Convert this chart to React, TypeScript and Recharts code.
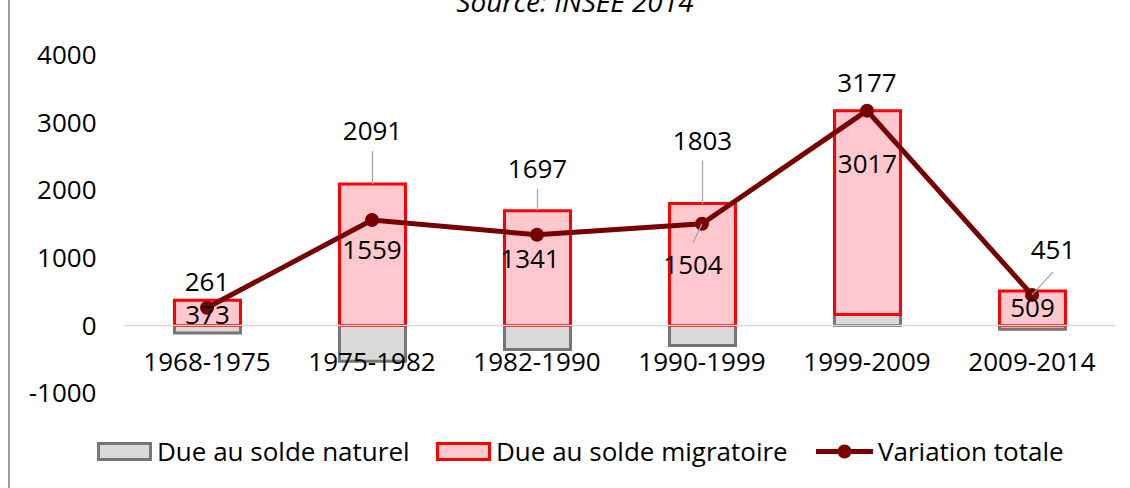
import React from "react";
import {
  Bar,
  ComposedChart,
  LabelList,
  Line,
  ReferenceLine,
  XAxis,
  YAxis,
} from "recharts";

// Données INSEE 2014 : variation de population par période
const PERIODES = [
  "1968-1975",
  "1975-1982",
  "1982-1990",
  "1990-1999",
  "1999-2009",
  "2009-2014",
];
const SOLDE_NATUREL = [-112, -532, -356, -299, 160, -58];
const SOLDE_MIGRATOIRE = [373, 2091, 1697, 1803, 3017, 509];
const VARIATION_TOTALE = [261, 1559, 1341, 1504, 3177, 451];
const Y_TICKS = [-1000, 0, 1000, 2000, 3000, 4000];

const SERIES = [
  "Due au solde naturel",
  "Due au solde migratoire",
  "Variation totale",
];

const data = PERIODES.map((periode, i) => ({
  periode,
  naturel: SOLDE_NATUREL[i],
  migratoire: SOLDE_MIGRATOIRE[i],
  total: VARIATION_TOTALE[i],
}));

// placement manuel des étiquettes (comme dans le graphique Excel d'origine)
const MIG_LABEL_DY = [14, -53, -42, -63, 53, 17];
const MIG_LEADER = [false, true, true, true, false, false];
const TOT_LABEL_DX = [0, 0, -7, -9, 0, 21];
const TOT_LABEL_DY = [-26, 30, 24, 41, -28, -45];
const TOT_LEADER = [false, false, false, true, false, true];

const FONT = "'Open Sans', sans-serif";
const FONT_SIZE = 26;
const LEADER = "#A6A6A6";
const MAROON = "#780000";

function readBox(p: any) {
  const vb = p.viewBox || {};
  return {
    x: Number(vb.x ?? p.x ?? 0),
    y: Number(vb.y ?? p.y ?? 0),
    width: Number(vb.width ?? p.width ?? 0),
  };
}

const renderMigLabel = (p: any) => {
  const { x, y, width } = readBox(p);
  const i = p.index;
  const cx = x + width / 2;
  const ly = y + MIG_LABEL_DY[i];
  return (
    <g>
      {MIG_LEADER[i] && (
        <line x1={cx} x2={cx} y1={ly + 20} y2={y} stroke={LEADER} strokeWidth={1.3} />
      )}
      <text
        x={cx}
        y={ly}
        dy="0.36em"
        textAnchor="middle"
        fill="#000"
        fontSize={FONT_SIZE}
        fontFamily={FONT}
      >
        {p.value}
      </text>
    </g>
  );
};

const renderTotalLabel = (p: any) => {
  const { x, y } = readBox(p);
  const i = p.index;
  const lx = x + TOT_LABEL_DX[i];
  const ly = y + TOT_LABEL_DY[i];
  const sign = TOT_LABEL_DY[i] > 0 ? 1 : -1;
  return (
    <g>
      {TOT_LEADER[i] && (
        <line x1={x} y1={y} x2={lx} y2={ly - sign * 22} stroke={LEADER} strokeWidth={1.3} />
      )}
      <text
        x={lx}
        y={ly}
        dy="0.36em"
        textAnchor="middle"
        fill="#000"
        fontSize={FONT_SIZE}
        fontFamily={FONT}
      >
        {p.value}
      </text>
    </g>
  );
};

const CategoryTick = (props: any) => {
  const { x, y, payload } = props;
  return (
    <text
      x={x}
      y={y - 31}
      dy="0.36em"
      textAnchor="middle"
      fill="#000"
      fontSize={FONT_SIZE}
      fontFamily={FONT}
    >
      {payload.value}
    </text>
  );
};

function LegendItem({ left, label, kind }: { left: number; label: string; kind: string }) {
  let icon;
  if (kind === "line") {
    icon = (
      <svg width={57} height={19} style={{ display: "block" }}>
        <line x1={0} x2={57} y1={9.5} y2={9.5} stroke={MAROON} strokeWidth={5} />
        <circle cx={28.5} cy={9.5} r={7} fill={MAROON} />
      </svg>
    );
  } else {
    const nat = kind === "naturel";
    icon = (
      <span
        style={{
          display: "block",
          width: 49,
          height: 13,
          background: nat ? "#D9D9D9" : "#FFC7CE",
          border: `3px solid ${nat ? "#767676" : "#FF0000"}`,
        }}
      />
    );
  }
  return (
    <div
      style={{
        position: "absolute",
        left,
        top: 436,
        height: 30,
        display: "flex",
        alignItems: "center",
        whiteSpace: "nowrap",
      }}
    >
      {icon}
      <span style={{ marginLeft: 5 }}>{label}</span>
    </div>
  );
}

export default function App() {
  return (
    <div
      style={{
        position: "fixed",
        left: 0,
        top: 0,
        width: 1130,
        height: 488,
        overflow: "hidden",
        background: "#fff",
        fontFamily: FONT,
        fontSize: FONT_SIZE,
        color: "#000",
      }}
    >
      <div
        style={{
          position: "absolute",
          left: 8,
          top: 0,
          width: 2,
          height: 488,
          background: "#9A9A9A",
        }}
      />
      <div
        style={{
          position: "absolute",
          left: 0,
          width: 1150,
          top: -13,
          lineHeight: "28px",
          fontSize: 28,
          textAlign: "center",
          fontStyle: "italic",
        }}
      >
        Source: INSEE 2014
      </div>
      <div style={{ position: "absolute", left: 0, top: 0 }}>
        <ComposedChart
          width={1130}
          height={488}
          data={data}
          stackOffset="sign"
          margin={{ top: 55, right: 15.5, bottom: 65, left: 0 }}
        >
          <XAxis
            dataKey="periode"
            height={30}
            axisLine={false}
            tickLine={false}
            tickSize={0}
            tickMargin={0}
            interval={0}
            tick={<CategoryTick />}
          />
          <YAxis
            width={124.5}
            domain={[-1000, 4000]}
            ticks={Y_TICKS}
            axisLine={false}
            tickLine={false}
            tickSize={0}
            tickMargin={28}
            tick={{ fill: "#000", fontSize: FONT_SIZE, fontFamily: FONT }}
          />
          <ReferenceLine y={0} stroke="#D9D9D9" strokeWidth={1.5} />
          <Bar
            dataKey="naturel"
            name={SERIES[0]}
            stackId="a"
            barSize={66}
            fill="#D9D9D9"
            stroke="#767676"
            strokeWidth={3}
            isAnimationActive={false}
          />
          <Bar
            dataKey="migratoire"
            name={SERIES[1]}
            stackId="a"
            barSize={66}
            fill="#FFC7CE"
            stroke="#FF0000"
            strokeWidth={3}
            isAnimationActive={false}
          >
            <LabelList dataKey="migratoire" content={renderMigLabel} />
          </Bar>
          <Line
            dataKey="total"
            name={SERIES[2]}
            type="linear"
            stroke={MAROON}
            strokeWidth={5}
            dot={{ r: 7, fill: MAROON, stroke: MAROON, strokeWidth: 0 }}
            activeDot={false}
            isAnimationActive={false}
          >
            <LabelList dataKey="total" content={renderTotalLabel} />
          </Line>
        </ComposedChart>
      </div>
      <LegendItem left={97} label={SERIES[0]} kind="naturel" />
      <LegendItem left={436} label={SERIES[1]} kind="migratoire" />
      <LegendItem left={816} label={SERIES[2]} kind="line" />
    </div>
  );
}
